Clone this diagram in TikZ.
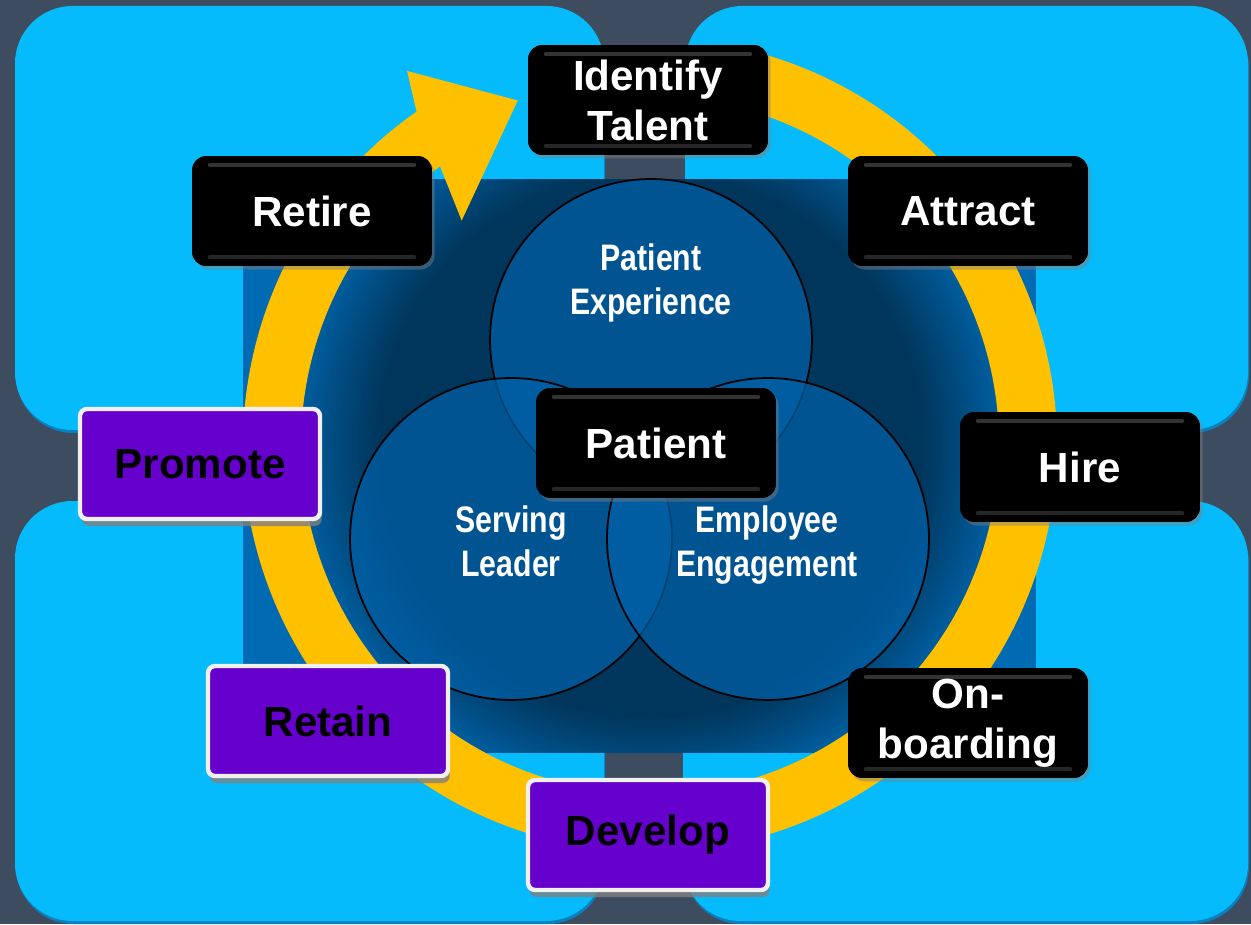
\documentclass[tikz,border=0pt]{standalone}
\usepackage{fontspec}
\setmainfont{Liberation Sans}
\newfontfamily\narrowfont{Liberation Sans}[FakeStretch=0.82]
\usetikzlibrary{shadows, calc}

\definecolor{slate}{HTML}{3D4C5F}
\definecolor{skycyan}{HTML}{05BBFB}
\definecolor{skyrim}{HTML}{0A80C0}
\definecolor{deepout}{HTML}{006AB2}
\definecolor{deepmid}{HTML}{005C9C}
\definecolor{deepin}{HTML}{00365C}
\definecolor{vennblue}{HTML}{0062AA}
\definecolor{ringgold}{HTML}{FFC000}
\definecolor{plum}{HTML}{6600CC}

\begin{document}
\begin{tikzpicture}[x=0.02cm, y=0.02cm,
    panel/.style={fill=skycyan, rounded corners=1.15cm},
    venn/.style={circle, draw=black, line width=1pt, fill=vennblue, fill opacity=0.7, minimum size=6.44cm, inner sep=0pt},
    vennlabel/.style={font=\narrowfont\bfseries\fontsize{21}{25}\selectfont, text=white, align=center},
    stepbox/.style={minimum width=4.8cm, minimum height=2.2cm, inner sep=2pt, align=center, font=\bfseries\fontsize{24}{28.5}\selectfont},
    blackbox/.style={stepbox, fill=black, text=white, rounded corners=8pt,
      drop shadow={shadow xshift=1.5pt, shadow yshift=-2pt, opacity=0.45},
      path picture={
        \draw[white!20!black, line width=2pt, line cap=round]
          ([xshift=10pt, yshift=-5pt]path picture bounding box.north west) -- ([xshift=-10pt, yshift=-5pt]path picture bounding box.north east);
        \draw[white!15!black, line width=2pt, line cap=round]
          ([xshift=10pt, yshift=5pt]path picture bounding box.south west) -- ([xshift=-10pt, yshift=5pt]path picture bounding box.south east);
      }},
    purplebox/.style={stepbox, fill=plum, text=black, draw=white!88!gray, line width=2.5pt, rounded corners=4pt,
      drop shadow={shadow xshift=1pt, shadow yshift=-4pt, opacity=0.8}}
  ]
  \useasboundingbox (0,0) rectangle (1251,924);
  \fill[slate] (0,0) rectangle (1251,924);

  % four panels
  \foreach \xa/\ya/\xb/\yb in {15/494/604/917, 685/494/1248/917, 15/3/604/422, 683/3/1248/422} {
    \fill[skyrim, rounded corners=1.15cm] (\xa+1,\ya-3) rectangle (\xb+1,\yb-3);
    \fill[panel] (\xa,\ya) rectangle (\xb,\yb+1);
  }

  % dark square behind the circles, darker round the middle
  \fill[deepout] (243,172) rectangle (1036,744);
  \begin{scope}
    \clip (243,172) rectangle (1036,744);
    \foreach \k in {0,...,25} {
      \pgfmathtruncatemacro\pct{100-4*\k}
      \fill[deepmid!\pct!deepin] (650,479) circle[radius=349-3*\k];
    }
  \end{scope}

  % ring with arrow head
  \begin{scope}[shift={(650,479)}]
    \fill[ringgold] (75:407) arc[start angle=75, end angle=-235, radius=407]
      -- (-237:446) -- (-249:369) -- (-230:293) -- (-233:349)
      arc[start angle=-233, end angle=75, radius=349] -- cycle;
  \end{scope}

  % Venn circles
  \node[venn] (pexp) at (651,584) {};
  \node[venn] (lead) at (511,385) {};
  \node[venn] (engage) at (768,385) {};
  \node[vennlabel] (pexpText) at (651,641) {Patient\\Experience};
  \node[vennlabel] (leadText) at (511,383) {Serving\\Leader};
  \node[vennlabel] (engageText) at (767,379) {Employee\\Engagement};

  % black steps
  \foreach \name/\x/\y/\txt in {ident/648/824/{Identify\\Talent}, retire/312/713/Retire, attract/968/713/Attract,
      patient/656/481/Patient, hire/1080/457/Hire, onboard/968/201/{On-\\boarding}} {
    \node[blackbox] (\name) at (\x,\y) {\txt};
  }

  % purple steps
  \foreach \name/\x/\y/\txt in {promote/200/460/Promote, retain/328/203/Retain, develop/648/89/Develop} {
    \node[purplebox] (\name) at (\x,\y) {\txt};
  }
\end{tikzpicture}
\end{document}
